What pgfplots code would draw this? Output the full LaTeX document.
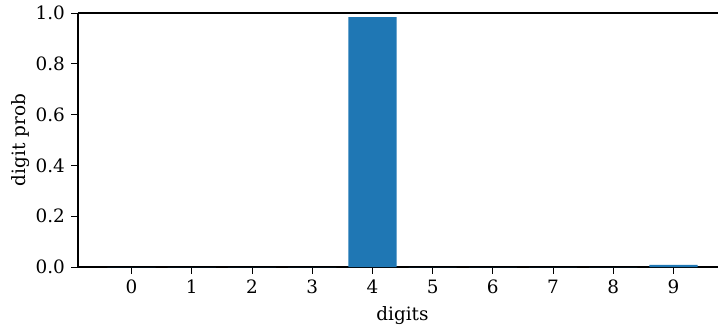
\documentclass[border=0pt]{standalone}
\usepackage{pgfplots}
\pgfplotsset{compat=1.18}
\usepackage{fontspec}
\setmainfont{DejaVu Serif}
\definecolor{mplblue}{HTML}{1F77B4}
\begin{document}
\fontsize{9.2}{11}\selectfont
\begin{tikzpicture}
\path[use as bounding box] (-39pt,-30pt) rectangle (320pt,133.5pt);
\begin{axis}[
  scale only axis,
  width=320pt, height=127pt,
  xmin=-0.89, xmax=9.74,
  ymin=0, ymax=1.0,
  axis x line*=box, axis y line*=left,
  xtick={0,1,2,3,4,5,6,7,8,9},
  ytick={0,0.2,0.4,0.6,0.8,1.0},
  yticklabel style={/pgf/number format/.cd,fixed,fixed zerofill,precision=1},
  /pgf/number format/assume math mode=true,
  xtick pos=lower, ytick pos=left,
  tick align=outside,
  major tick length=3.3pt,
  tick style={black, line width=0.5pt},
  axis line style={black, line width=0.6pt},
  xlabel={digits}, ylabel={digit prob},
  x label style={at={(ticklabel cs:0.507)}, anchor=north, yshift=0pt},
  y label style={yshift=-3.5pt},
  ticklabel style={font=\fontsize{9.2}{11}\selectfont},
  label style={font=\fontsize{9.2}{11}\selectfont},
  clip=true,
]
\addplot[ybar, bar width=0.8, fill=mplblue, draw=none] coordinates {
 (0,0) (1,0) (2,0) (3,0) (4,0.984) (5,0) (6,0) (7,0) (8,0) (9,0.008)
};
\end{axis}
\end{tikzpicture}
\end{document}
